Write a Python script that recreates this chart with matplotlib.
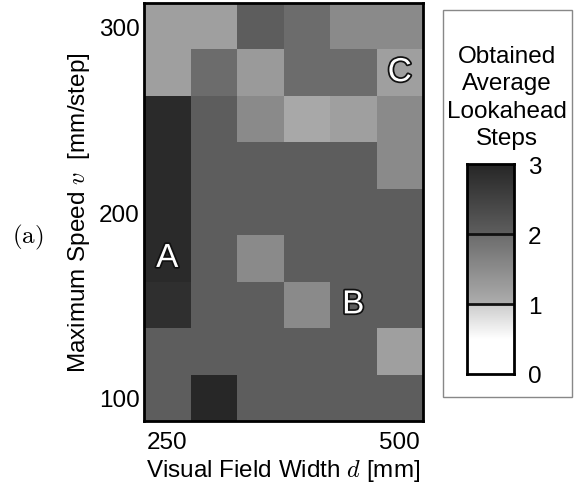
import numpy as np
import matplotlib
matplotlib.use('Agg')
import matplotlib.pyplot as plt
import matplotlib.patheffects as pe
from matplotlib.colors import LinearSegmentedColormap, Normalize
from matplotlib.patches import Rectangle

plt.rcParams['font.family'] = 'Liberation Sans'
plt.rcParams['mathtext.fontset'] = 'cm'

# visual field width d [mm] and maximum speed v [mm/step]
widths = [250, 300, 350, 400, 450, 500]
speeds = [100, 125, 150, 175, 200, 225, 250, 275, 300]

# average lookahead steps, rows from v=100 (bottom) up to v=300 (top)
steps = np.array([
    [2.02, 2.98, 2.02, 2.02, 2.02, 2.02],
    [2.02, 2.02, 2.02, 2.02, 2.02, 1.22],
    [2.85, 2.02, 2.02, 1.54, 2.02, 2.02],
    [2.93, 2.02, 1.54, 2.02, 2.02, 2.02],
    [2.93, 2.02, 2.02, 2.02, 2.02, 2.02],
    [2.93, 2.02, 2.02, 2.02, 2.02, 1.54],
    [2.93, 2.03, 1.54, 1.08, 1.22, 1.54],
    [1.22, 1.98, 1.30, 1.98, 1.98, 1.22],
    [1.22, 1.22, 2.03, 1.98, 1.54, 1.54],
])

labels = [('A', 250, 175), ('B', 450, 150), ('C', 500, 275)]

# piecewise grey map, jumps at 1 and 2
g = {'red': [], 'green': [], 'blue': []}
pts = [(0.0, 1.0, 1.0), (0.5 / 3, 1.0, 1.0), (1 / 3, 0.80, 0.68),
       (2 / 3, 0.42, 0.37), (1.0, 0.15, 0.15)]
for k in g:
    g[k] = pts
cmap = LinearSegmentedColormap('lookahead', g, N=1024)
norm = Normalize(0, 3)

fs = 17.5
fig = plt.figure(figsize=(5.79, 4.89), dpi=100)
ax = fig.add_axes([144 / 579, 1 - 422 / 489, 279 / 579, 418 / 489])
ax.pcolormesh(widths, speeds, steps, cmap=cmap, norm=norm, shading='nearest')
ax.set_xlim(225, 525)
ax.set_ylim(87.5, 312.5)
ax.set_xticks([250, 500])
ax.set_yticks([100, 200, 300])
ax.tick_params(length=0, labelsize=fs)
ax.tick_params(axis='x', pad=7)
ax.tick_params(axis='y', pad=3)
for s in ax.spines.values():
    s.set_linewidth(2)
ax.set_xlabel('Visual Field Width $d$ [mm]', fontsize=fs, labelpad=3)
ax.set_ylabel('Maximum Speed $v$  [mm/step]', fontsize=fs, labelpad=5)

for t, x, y in labels:
    ax.text(x, y, t, color='white', fontsize=24, ha='center', va='center',
            path_effects=[pe.withStroke(linewidth=2.5, foreground='#111111')])

fig.text(28 / 579, 1 - 237 / 489, r'$\mathrm{(a)}$', fontsize=18, ha='center', va='center')

# legend box
box = Rectangle((443 / 579, 1 - 398 / 489), 129 / 579, 387 / 489, transform=fig.transFigure,
                fill=False, edgecolor='#888888', linewidth=1)
fig.patches.append(box)
fig.text(507 / 579, 1 - 98 / 489, 'Obtained\nAverage\nLookahead\nSteps', fontsize=fs,
         ha='center', va='center', linespacing=1.3)

cax = fig.add_axes([467 / 579, 1 - 375 / 489, 47 / 579, 210 / 489])
grad = np.linspace(0, 3, 600).reshape(-1, 1)
cax.imshow(grad, cmap=cmap, norm=norm, aspect='auto', origin='lower', extent=[0, 1, 0, 3])
for lv in [1, 2]:
    cax.axhline(lv, color='#111111', linewidth=2)
cax.set_xticks([])
cax.yaxis.tick_right()
cax.set_yticks([0, 1, 2, 3])
cax.tick_params(length=0, labelsize=fs, pad=10)
for s in cax.spines.values():
    s.set_linewidth(2)

fig.savefig('out.png', dpi=100)
